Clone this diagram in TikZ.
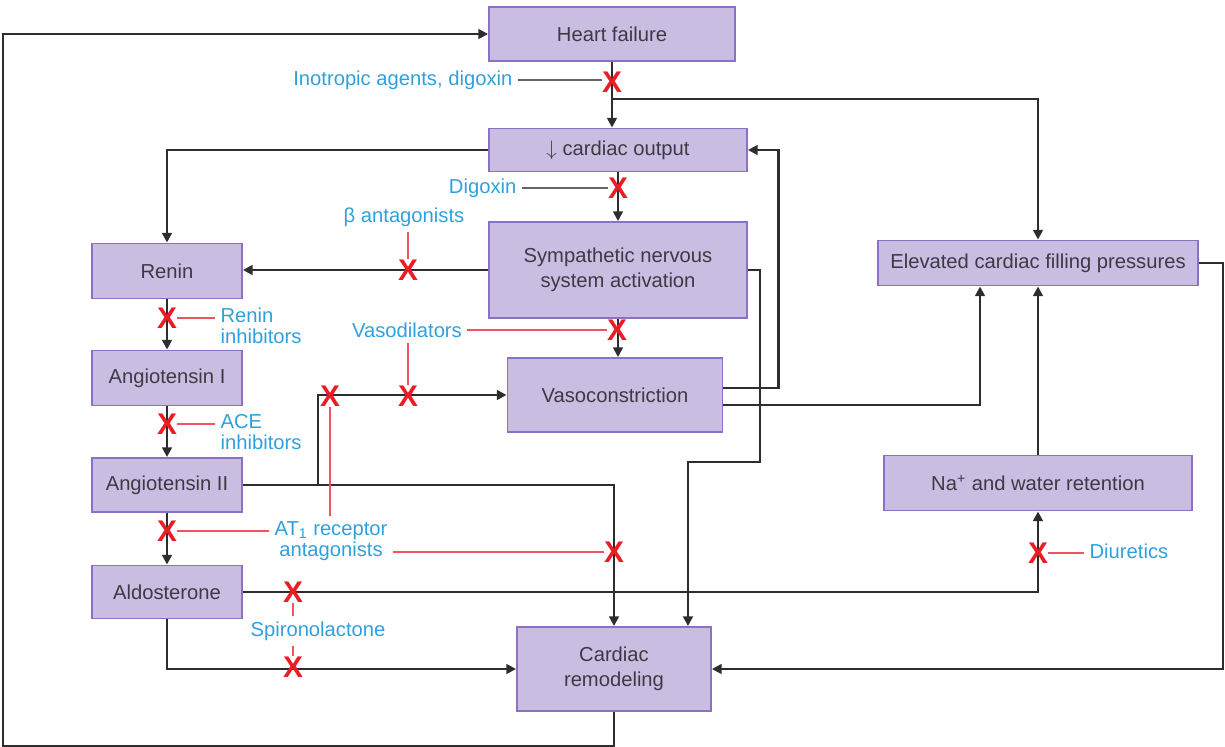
\documentclass[tikz,border=0pt]{standalone}
\usepackage{fontspec}
\setmainfont{Liberation Sans}
\usetikzlibrary{arrows.meta}
\definecolor{boxfill}{RGB}{201,190,226}
\definecolor{boxline}{RGB}{140,112,196}
\definecolor{boxtext}{RGB}{60,58,68}
\definecolor{drugblue}{RGB}{48,160,220}
\definecolor{blockred}{RGB}{236,28,36}
\definecolor{inhibred}{RGB}{240,84,96}
\definecolor{linegray}{RGB}{45,45,45}

\begin{document}
\begin{tikzpicture}[
  x=0.02cm, y=-0.02cm,
  box/.style={rectangle, draw=boxline, fill=boxfill, line width=1.1pt, inner sep=2pt, align=center, text=boxtext, font=\fontsize{11.5}{14}\selectfont},
  drug/.style={text=drugblue, inner sep=3pt, align=left, font=\fontsize{11.5}{12}\selectfont},
  arr/.style={draw=linegray, line width=1.35pt, -{Triangle[length=5.5pt,width=5.5pt]}},
  inhib/.style={draw=inhibred, line width=0.9pt},
  tag/.style={draw=gray!80!black, line width=0.9pt},
  xmark/.style={text=blockred, inner sep=0pt, font=\fontsize{17}{17}\selectfont\bfseries}
  ]
  \useasboundingbox (0,0) rectangle (1225,747);

  \node[box, minimum width=4.92cm, minimum height=1.08cm] (hf) at (612,34) {Heart failure};
  \node[box, minimum width=5.16cm, minimum height=0.86cm] (co) at (618,150) {$\downarrow$ cardiac output};
  \node[box, minimum width=5.16cm, minimum height=1.92cm] (sns) at (618,270) {Sympathetic nervous\\system activation};
  \node[box, minimum width=4.3cm, minimum height=1.48cm] (vaso) at (615,395) {Vasoconstriction};
  \node[box, minimum width=3cm, minimum height=1.1cm] (renin) at (167,271) {Renin};
  \node[box, minimum width=3cm, minimum height=1.1cm] (ang1) at (167,378) {Angiotensin I};
  \node[box, minimum width=3cm, minimum height=1.08cm] (ang2) at (167,485) {Angiotensin II};
  \node[box, minimum width=3cm, minimum height=1.06cm] (aldo) at (167,592) {Aldosterone};
  \node[box, minimum width=3.88cm, minimum height=1.68cm] (remod) at (614,669) {Cardiac\\remodeling};
  \node[box, minimum width=6.4cm, minimum height=0.9cm] (efp) at (1038,263) {Elevated cardiac filling pressures};
  \node[box, minimum width=6.16cm, minimum height=1.1cm] (na) at (1038,483) {Na\textsuperscript{+} and water retention};

  \node[drug, anchor=east] (inotr) at (518,80) {Inotropic agents, digoxin};
  \node[drug, anchor=east] (digox) at (522,188) {Digoxin};
  \node[drug] (beta) at (404,217) {β antagonists};
  \node[drug] (vasod) at (407,330) {Vasodilators};
  \node[drug, anchor=west] (rinh) at (215,326) {Renin\\inhibitors};
  \node[drug, anchor=west] (acei) at (215,432) {ACE\\inhibitors};
  \node[drug, align=center] (at1) at (331,541) {AT\textsubscript{1} receptor\\antagonists};
  \node[drug] (spiro) at (318,631) {Spironolactone};
  \node[drug, anchor=west] (diur) at (1084,551) {Diuretics};

  \coordinate (hfsplit) at (612,99);
  \coordinate (angsplit) at (318,485);

  \draw[arr] (hf.south) -- (hf.south |- co.north);
  \draw[arr] (hfsplit) -| (efp.north);
  \draw[arr] (co.west) -| (renin.north);
  \draw[arr] (co.south) -- (sns.north);
  \draw[arr] (sns.west) -- (sns.west -| renin.east);
  \draw[arr] (sns.south) -- (sns.south |- vaso.north);
  \draw[arr] (sns.east) -| (760,462) -| ([xshift=1.48cm]remod.north);
  \draw[arr] ([yshift=0.14cm]vaso.east) -- ++(55,0) |- (co.east);
  \draw[arr] ([yshift=-0.2cm]vaso.east) -| ([xshift=-1.16cm]efp.south);
  \draw[arr] (na.north) -- (efp.south);
  \draw[arr] (efp.east) -- ++(24,0) |- (remod.east);
  \draw[arr] (remod.south) -- ++(0,34) -| (3,300) |- (hf.west);
  \draw[arr] (renin) -- (ang1);
  \draw[arr] (ang1) -- (ang2);
  \draw[arr] (ang2) -- (aldo);
  \draw[arr] (ang2.east) -| (remod.north);
  \draw[arr] (angsplit) |- (vaso.west);
  \draw[arr] (aldo.east) -| (na.south);
  \draw[arr] (aldo.south) |- (remod.west);

  \node[xmark] (xhf) at (612,82) {X};
  \node[xmark] (xco) at (618,188) {X};
  \node[xmark] (xsns) at (408,270) {X};
  \node[xmark] (xvaso) at (617,330) {X};
  \node[xmark] (xvc1) at (330,396) {X};
  \node[xmark] (xvc2) at (408,396) {X};
  \node[xmark] (xrenin) at (167,318) {X};
  \node[xmark] (xang1) at (167,424) {X};
  \node[xmark] (xang2) at (167,531) {X};
  \node[xmark] (xremod) at (614,552) {X};
  \node[xmark] (xaldo1) at (293,592) {X};
  \node[xmark] (xaldo2) at (293,667) {X};
  \node[xmark] (xna) at (1038,553) {X};

  \draw[tag] (inotr.east) -- (inotr.east -| xhf.west);
  \draw[tag] (digox.east) -- (digox.east -| xco.west);
  \draw[inhib] (xsns.north |- beta.south) -- (xsns.north);
  \draw[inhib] (vasod.east) -- (vasod.east -| xvaso.west);
  \draw[inhib] (xvc2.north |- vasod.south) -- (xvc2.north);
  \draw[inhib] (xrenin.east) -- (xrenin.east -| rinh.west);
  \draw[inhib] (xang1.east) -- (xang1.east -| acei.west);
  \draw[inhib] (xang2.east) -- (xang2.east -| at1.west);
  \draw[inhib] (xvc1.south) -- (xvc1.south |- at1.north);
  \draw[inhib] (xremod.west -| at1.east) -- (xremod.west);
  \draw[inhib] (xaldo1.south) -- (xaldo1.south |- spiro.north);
  \draw[inhib] (xaldo2.north |- spiro.south) -- (xaldo2.north);
  \draw[inhib] (xna.east) -- (xna.east -| diur.west);
\end{tikzpicture}
\end{document}
